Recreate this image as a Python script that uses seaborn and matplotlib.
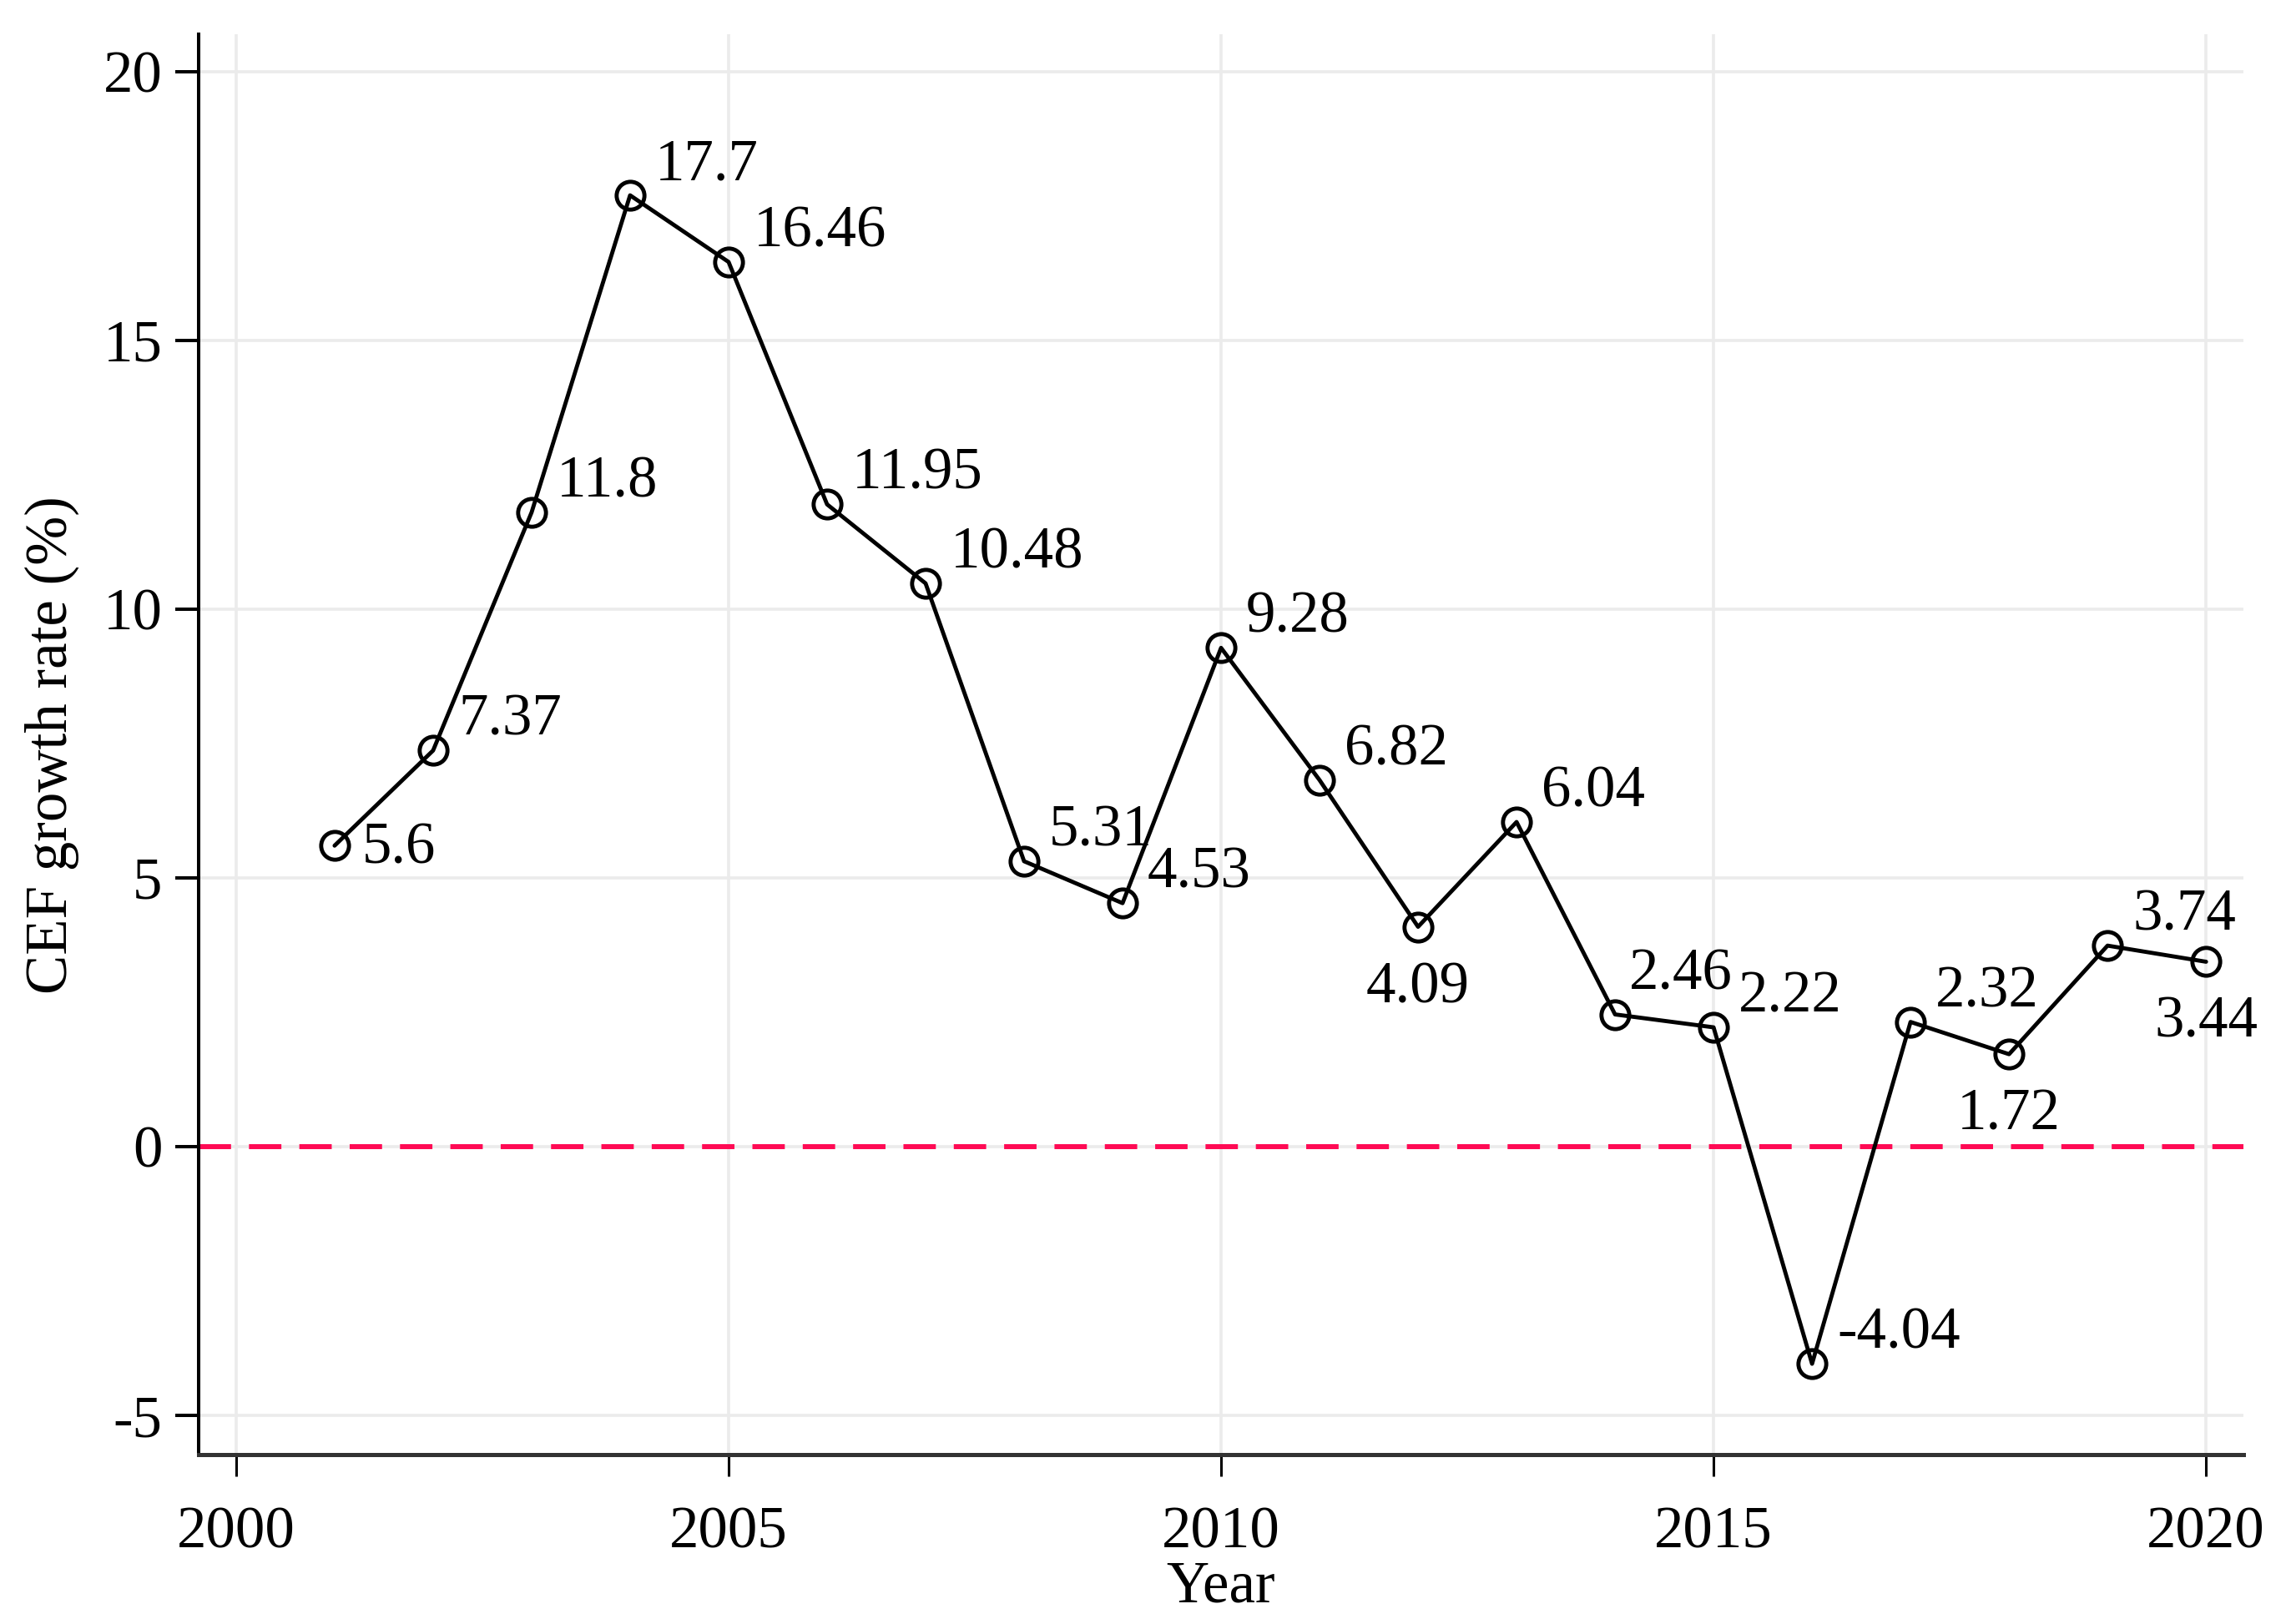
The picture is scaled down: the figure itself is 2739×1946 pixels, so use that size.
import numpy as np
import pandas as pd
import matplotlib
matplotlib.use("Agg")
import matplotlib.pyplot as plt
import seaborn as sns

# Data
years = [2001, 2002, 2003, 2004, 2005, 2006, 2007, 2008, 2009, 2010,
         2011, 2012, 2013, 2014, 2015, 2016, 2017, 2018, 2019, 2020]
growth = [5.6, 7.37, 11.8, 17.7, 16.46, 11.95, 10.48, 5.31, 4.53, 9.28,
          6.82, 4.09, 6.04, 2.46, 2.22, -4.04, 2.32, 1.72, 3.74, 3.44]
x_ticks = [2000, 2005, 2010, 2015, 2020]
y_ticks = [-5, 0, 5, 10, 15, 20]

df = pd.DataFrame({"Year": years, "CEF": growth})

# label placement (clock positions, Stata style); default is 2 o'clock
label_clock = {2001: 3, 2012: 6, 2014: 1, 2018: 6, 2020: 6}
clock_offsets = {  # pixel offsets, ha
    1: ((17, 48), "left"),
    2: ((30, 36), "left"),
    3: ((33, -4), "left"),
    6: ((0, -73), "center"),
}

sns.set_style("whitegrid")
plt.rcParams["font.family"] = ["Liberation Serif", "DejaVu Serif"]
plt.rcParams["axes.unicode_minus"] = False
plt.rcParams["text.color"] = "black"
plt.rcParams["axes.labelcolor"] = "black"
plt.rcParams["xtick.color"] = "black"
plt.rcParams["ytick.color"] = "black"

fig = plt.figure(figsize=(27.39, 19.46), dpi=100)
ax = fig.add_axes([0.0869, 0.1043, 0.8945, 0.8744])

# reference line at zero
ax.axhline(0, color="#FF0A54", linewidth=4.3, dashes=(6.5, 3.6), zorder=2)

# Plot Points
sns.lineplot(data=df, x="Year", y="CEF", ax=ax, color="black", linewidth=3.5,
             marker="o", markersize=24, markerfacecolor="none",
             markeredgecolor="black", markeredgewidth=3.5, zorder=3)

for yr, val in zip(years, growth):
    (dx, dy), ha = clock_offsets[label_clock.get(yr, 2)]
    ax.annotate(f"{val:g}", (yr, val), xytext=(dx, dy), textcoords="offset pixels",
                ha=ha, va="center", fontsize=51, color="black", zorder=4)

# Decoration
ax.set_xlim(1999.62, 2020.38)
ax.set_ylim(-5.73, 20.69)
ax.set_xticks(x_ticks)
ax.set_yticks(y_ticks)
ax.grid(True, color="#ebebeb", linewidth=2.6)
ax.set_axisbelow(True)

for s in ["top", "right"]:
    ax.spines[s].set_visible(False)
ax.spines["left"].set_color("black")
ax.spines["left"].set_linewidth(2.9)
ax.spines["bottom"].set_color("#333333")
ax.spines["bottom"].set_linewidth(3.6)

ax.tick_params(axis="y", direction="out", length=20, width=2.9, color="black",
               pad=11.5, labelsize=51, labelcolor="black", left=True)
ax.tick_params(axis="x", direction="out", length=19, width=2.2, color="black",
               pad=25, labelsize=51, labelcolor="black", bottom=True)

ax.set_xlabel("Year", fontsize=51)
ax.set_ylabel("CEF growth rate (%)", fontsize=51)
ax.xaxis.set_label_coords(0.5, -0.104)
ax.xaxis.label.set_va("baseline")
ax.yaxis.set_label_coords(-0.0645, 0.5)
ax.yaxis.label.set_va("baseline")

fig.savefig("out.png", dpi=100, facecolor="white")
